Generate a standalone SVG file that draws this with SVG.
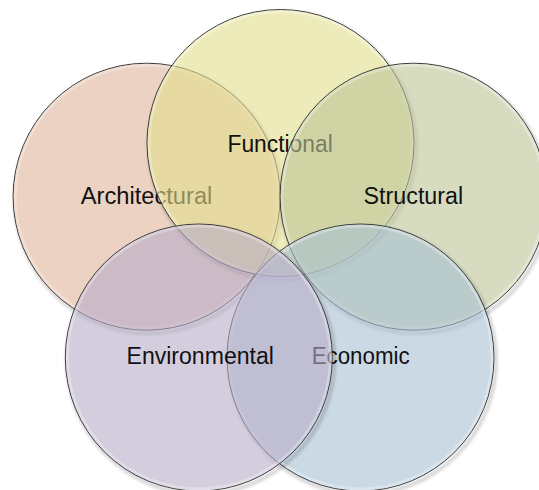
<svg xmlns="http://www.w3.org/2000/svg" width="539" height="490" viewBox="0 0 539 490">
<style>
.c{stroke:#3a3a3a;stroke-width:1;fill-opacity:0.6}
.hl{fill:none;stroke:#fff;stroke-width:3;opacity:0.3}
.sh{fill:none;stroke:#000;stroke-width:4;opacity:0.16}
.t{font-family:"Liberation Sans",Arial,sans-serif;font-size:23px;fill:#111}
</style>
<defs>
<filter id="blur" x="-10%" y="-10%" width="120%" height="120%"><feGaussianBlur stdDeviation="1.5"/></filter>
<mask id="m1" maskUnits="userSpaceOnUse" x="0" y="0" width="539" height="490"><rect width="539" height="490" fill="#fff"/><circle cx="146.6" cy="196.7" r="133.5" fill="#000"/></mask>
<mask id="m2" maskUnits="userSpaceOnUse" x="0" y="0" width="539" height="490"><rect width="539" height="490" fill="#fff"/><circle cx="280.5" cy="143" r="133.5" fill="#000"/></mask>
<mask id="m3" maskUnits="userSpaceOnUse" x="0" y="0" width="539" height="490"><rect width="539" height="490" fill="#fff"/><circle cx="413.6" cy="196.7" r="133.5" fill="#000"/></mask>
<mask id="m4" maskUnits="userSpaceOnUse" x="0" y="0" width="539" height="490"><rect width="539" height="490" fill="#fff"/><circle cx="360.5" cy="357.5" r="133.5" fill="#000"/></mask>
<mask id="m5" maskUnits="userSpaceOnUse" x="0" y="0" width="539" height="490"><rect width="539" height="490" fill="#fff"/><circle cx="198.8" cy="357.5" r="133.5" fill="#000"/></mask>
</defs>
<rect width="539" height="490" fill="#fff"/>
<g id="architectural">
<circle class="sh" cx="148.6" cy="199.7" r="133.5" filter="url(#blur)" mask="url(#m1)"/>
<circle class="c" cx="146.6" cy="196.7" r="133.5" fill="#e0b49a"/>
<circle class="hl" cx="146.6" cy="196.7" r="131.5"/>
<text class="t" x="80.7" y="204" textLength="131.7" lengthAdjust="spacingAndGlyphs">Architectural</text>
</g>
<g id="functional">
<circle class="sh" cx="282.5" cy="146" r="133.5" filter="url(#blur)" mask="url(#m2)"/>
<circle class="c" cx="280.5" cy="143" r="133.5" fill="#e3de8c"/>
<circle class="hl" cx="280.5" cy="143" r="131.5"/>
<text class="t" x="227.5" y="151.7" textLength="105.2" lengthAdjust="spacingAndGlyphs">Functional</text>
</g>
<g id="structural">
<circle class="sh" cx="415.6" cy="199.7" r="133.5" filter="url(#blur)" mask="url(#m3)"/>
<circle class="c" cx="413.6" cy="196.7" r="133.5" fill="#bcc498"/>
<circle class="hl" cx="413.6" cy="196.7" r="131.5"/>
<text class="t" x="363.6" y="204" textLength="99.6" lengthAdjust="spacingAndGlyphs">Structural</text>
</g>
<g id="economic">
<circle class="sh" cx="362.5" cy="360.5" r="133.5" filter="url(#blur)" mask="url(#m4)"/>
<circle class="c" cx="360.5" cy="357.5" r="133.5" fill="#a7bfd2"/>
<circle class="hl" cx="360.5" cy="357.5" r="131.5"/>
<text class="t" x="311.7" y="364" textLength="97.9" lengthAdjust="spacingAndGlyphs">Economic</text>
</g>
<g id="environmental">
<circle class="sh" cx="200.8" cy="360.5" r="133.5" filter="url(#blur)" mask="url(#m5)"/>
<circle class="c" cx="198.8" cy="357.5" r="133.5" fill="#b8abc8"/>
<circle class="hl" cx="198.8" cy="357.5" r="131.5"/>
<text class="t" x="126.5" y="364" textLength="147.4" lengthAdjust="spacingAndGlyphs">Environmental</text>
</g>
</svg>
